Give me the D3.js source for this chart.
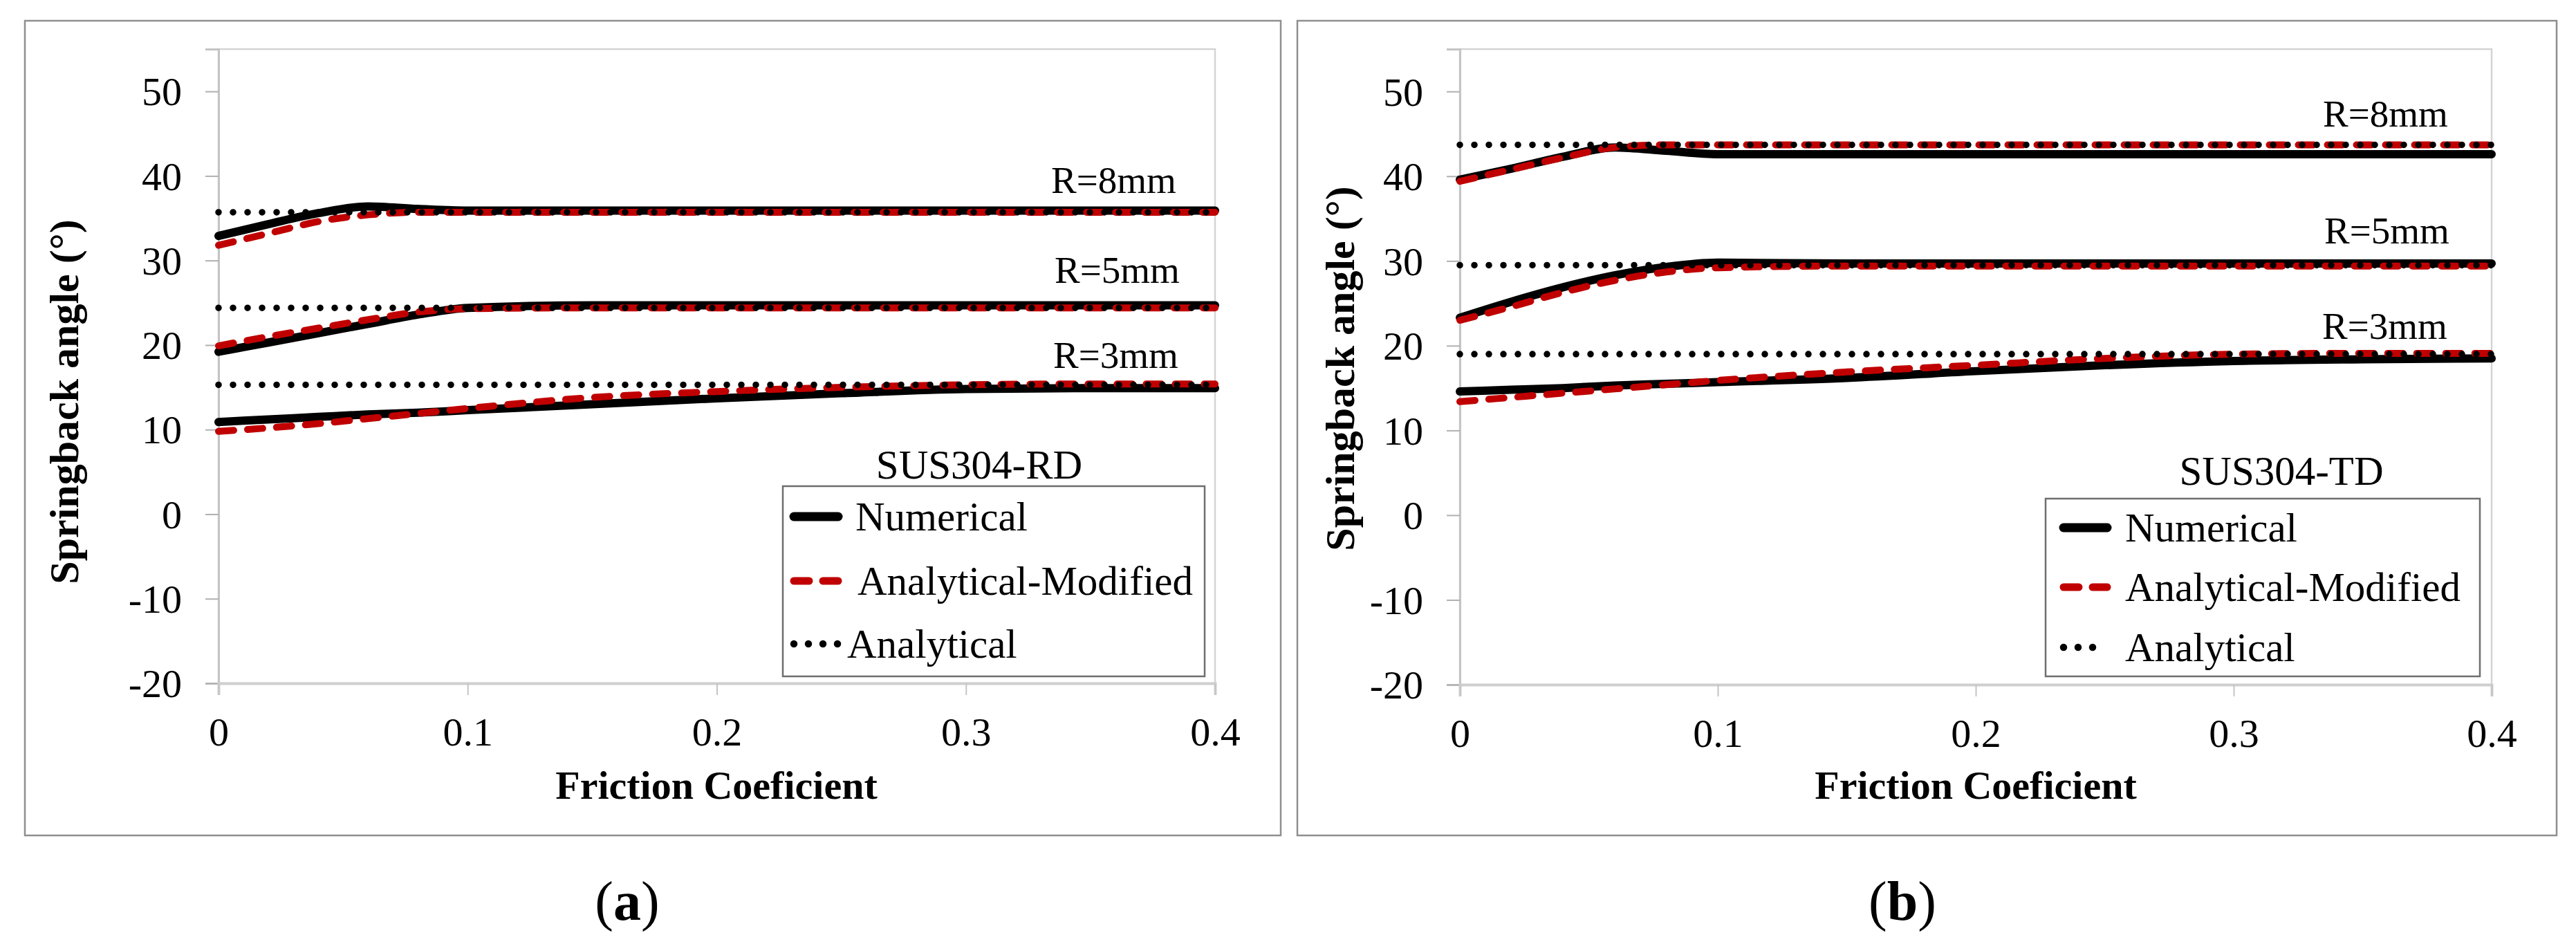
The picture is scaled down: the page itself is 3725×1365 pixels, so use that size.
<!DOCTYPE html>
<html>
<head>
<meta charset="utf-8">
<script src="https://cdn.jsdelivr.net/npm/d3@7"></script>
<style>
  html, body { margin: 0; padding: 0; background: #ffffff; }
  svg { display: block; }
  text { font-family: "Liberation Serif", "Times New Roman", Times, serif; fill: #000; }
</style>
</head>
<body>
<svg id="chart" width="3725" height="1365"></svg>
<script>
// ---------------- DATA ----------------
const friction = [0, 0.02, 0.04, 0.06, 0.08, 0.1, 0.15, 0.2, 0.25, 0.3, 0.35, 0.4];
const xTicks = [0, 0.1, 0.2, 0.3, 0.4];
const yTicks = [-20, -10, 0, 10, 20, 30, 40, 50];
const radii = ["R=8mm", "R=5mm", "R=3mm"];
const seriesNames = ["Numerical", "Analytical-Modified", "Analytical"];

// (a) SUS304-RD
const rdNum8 = [32.9, 34.3, 35.6, 36.4, 36.1, 35.9, 35.9, 35.9, 35.9, 35.9, 35.9, 35.9];
const rdMod8 = [31.8, 33.2, 34.6, 35.4, 35.7, 35.7, 35.7, 35.7, 35.7, 35.7, 35.7, 35.7];
const rdAna8 = [35.7, 35.7, 35.7, 35.7, 35.7, 35.7, 35.7, 35.7, 35.7, 35.7, 35.7, 35.7];
const rdNum5 = [19.2, 20.3, 21.4, 22.5, 23.6, 24.4, 24.7, 24.7, 24.7, 24.7, 24.7, 24.7];
const rdMod5 = [19.9, 21.0, 22.0, 23.0, 23.9, 24.3, 24.4, 24.4, 24.4, 24.4, 24.4, 24.4];
const rdAna5 = [24.4, 24.4, 24.4, 24.4, 24.4, 24.4, 24.4, 24.4, 24.4, 24.4, 24.4, 24.4];
const rdNum3 = [10.9, 11.2, 11.5, 11.8, 12.0, 12.3, 13.0, 13.7, 14.3, 14.8, 14.9, 14.9];
const rdMod3 = [9.8, 10.2, 10.7, 11.3, 11.9, 12.5, 13.8, 14.5, 15.0, 15.3, 15.4, 15.4];
const rdAna3 = [15.3, 15.3, 15.3, 15.3, 15.3, 15.3, 15.3, 15.3, 15.3, 15.3, 15.3, 15.3];

// (b) SUS304-TD
const tdNum8 = [39.6, 40.9, 42.3, 43.4, 43.0, 42.6, 42.6, 42.6, 42.6, 42.6, 42.6, 42.6];
const tdMod8 = [39.4, 40.8, 42.2, 43.4, 43.7, 43.7, 43.7, 43.7, 43.7, 43.7, 43.7, 43.7];
const tdAna8 = [43.7, 43.7, 43.7, 43.7, 43.7, 43.7, 43.7, 43.7, 43.7, 43.7, 43.7, 43.7];
const tdNum5 = [23.3, 25.2, 26.9, 28.3, 29.3, 29.8, 29.7, 29.7, 29.7, 29.7, 29.7, 29.7];
const tdMod5 = [23.0, 24.6, 26.3, 27.7, 28.7, 29.2, 29.4, 29.4, 29.4, 29.4, 29.4, 29.4];
const tdAna5 = [29.5, 29.5, 29.5, 29.5, 29.5, 29.5, 29.5, 29.5, 29.5, 29.5, 29.5, 29.5];
const tdNum3 = [14.6, 14.8, 15.0, 15.3, 15.5, 15.7, 16.2, 17.0, 17.7, 18.2, 18.4, 18.5];
const tdMod3 = [13.4, 13.9, 14.4, 14.9, 15.4, 15.9, 16.9, 17.7, 18.5, 19.0, 19.1, 19.1];
const tdAna3 = [19.0, 19.0, 19.0, 19.0, 19.0, 19.0, 19.0, 19.0, 19.0, 19.0, 19.0, 19.0];

// ---------------- STYLES ----------------
const styles = {
  "Numerical":           { stroke: "#000000", width: 12,  dash: null,    cap: "round" },
  "Analytical-Modified": { stroke: "#c00000", width: 10,  dash: "22 20", cap: "round" },
  "Analytical":          { stroke: "#000000", width: 9.5, dash: "0 21",  cap: "round" }
};

// ---------------- LAYOUT ----------------
const panels = [
  {
    material: "SUS304-RD", caption: "a",
    series: [[rdNum8, rdMod8, rdAna8], [rdNum5, rdMod5, rdAna5], [rdNum3, rdMod3, rdAna3]],
    outer: [36, 30, 1852, 1208],
    plot: { x0: 316, x1: 1757, y0: 71, y1: 988 },
    yTitle: { x: 113, cy: 581 },
    xTitle: { cx: 1036, y: 1155 },
    rLabels: [{ x: 1520, y: 279 }, { x: 1525, y: 409 }, { x: 1523, y: 532 }],
    legend: { box: [1132, 703, 1742, 978], rows: [747, 840, 931], sx0: 1148, sx1: 1212, tx: [1237, 1240, 1225] },
    matTitle: { cx: 1416, y: 692 },
    cap: { cx: 907, y: 1330 }
  },
  {
    material: "SUS304-TD", caption: "b",
    series: [[tdNum8, tdMod8, tdAna8], [tdNum5, tdMod5, tdAna5], [tdNum3, tdMod3, tdAna3]],
    outer: [1876, 30, 3697, 1208],
    plot: { x0: 2111, x1: 3603, y0: 71, y1: 990 },
    yTitle: { x: 1958, cy: 533 },
    xTitle: { cx: 2857, y: 1155 },
    rLabels: [{ x: 3359, y: 183 }, { x: 3361, y: 352 }, { x: 3358, y: 490 }],
    legend: { box: [2958, 721, 3586, 978], rows: [763, 849, 936], sx0: 2984, sx1: 3047, tx: [3073, 3073, 3073] },
    matTitle: { cx: 3299, y: 701 },
    cap: { cx: 2751, y: 1330 }
  }
];

const svg = d3.select("#chart");

panels.forEach(p => {
  const g = svg.append("g");

  // outer frame
  g.append("rect")
    .attr("x", p.outer[0]).attr("y", p.outer[1])
    .attr("width", p.outer[2] - p.outer[0]).attr("height", p.outer[3] - p.outer[1])
    .attr("fill", "#ffffff").attr("stroke", "#8f8f8f").attr("stroke-width", 2.5);

  const x = d3.scaleLinear().domain([0, 0.4]).range([p.plot.x0, p.plot.x1]);
  const y = d3.scaleLinear().domain([-20, 55]).range([p.plot.y1, p.plot.y0]);

  // plot area border (top/right)
  g.append("rect")
    .attr("x", p.plot.x0).attr("y", p.plot.y0)
    .attr("width", p.plot.x1 - p.plot.x0).attr("height", p.plot.y1 - p.plot.y0)
    .attr("fill", "none").attr("stroke", "#d4d4d4").attr("stroke-width", 2.5);

  // y axis
  const yAxis = g.append("g")
    .attr("transform", `translate(${p.plot.x0},0)`)
    .call(d3.axisLeft(y).tickValues(yTicks).tickSize(19).tickPadding(34).tickFormat(d3.format("d")));
  yAxis.select(".domain").attr("stroke", "#c4c4c4").attr("stroke-width", 3);
  yAxis.selectAll(".tick line").attr("stroke", "#b0b0b0").attr("stroke-width", 2);
  yAxis.selectAll(".tick text")
    .attr("font-size", 58).attr("font-family", "Liberation Serif, Times New Roman, serif")
    .attr("fill", "#000").attr("dy", "0.34em")
    .text(d => d < 0 ? "-" + Math.abs(d) : d);

  // x axis
  const xAxis = g.append("g")
    .attr("transform", `translate(0,${p.plot.y1})`)
    .call(d3.axisBottom(x).tickValues(xTicks).tickSize(17).tickFormat(d => d === 0 ? "0" : d3.format(".1f")(d)));
  xAxis.select(".domain").attr("stroke", "#cfcfcf").attr("stroke-width", 4);
  xAxis.selectAll(".tick line").attr("stroke", "#c4c4c4").attr("stroke-width", 2);
  xAxis.selectAll(".tick text")
    .attr("font-size", 58).attr("font-family", "Liberation Serif, Times New Roman, serif")
    .attr("fill", "#000").attr("y", 90).attr("dy", null);

  // axis titles
  g.append("text")
    .attr("transform", `translate(${p.yTitle.x},${p.yTitle.cy}) rotate(-90)`)
    .attr("text-anchor", "middle").attr("font-size", 60).attr("font-weight", "bold")
    .text("Springback  angle (°)");
  g.append("text")
    .attr("x", p.xTitle.cx).attr("y", p.xTitle.y)
    .attr("text-anchor", "middle").attr("font-size", 58).attr("font-weight", "bold")
    .text("Friction Coeficient");

  // lines
  const line = d3.line()
    .x(d => x(d[0])).y(d => y(d[1]))
    .curve(d3.curveMonotoneX);

  p.series.forEach(group => {
    group.forEach((vals, si) => {
      const st = styles[seriesNames[si]];
      const pts = friction.map((f, i) => [f, vals[i]]);
      g.append("path")
        .attr("d", line(pts))
        .attr("fill", "none")
        .attr("stroke", st.stroke)
        .attr("stroke-width", st.width)
        .attr("stroke-linecap", st.cap)
        .attr("stroke-linejoin", "round")
        .attr("stroke-dasharray", st.dash);
    });
  });

  // R labels
  radii.forEach((r, i) => {
    g.append("text")
      .attr("x", p.rLabels[i].x).attr("y", p.rLabels[i].y)
      .attr("font-size", 55).text(r);
  });

  // material title
  g.append("text")
    .attr("x", p.matTitle.cx).attr("y", p.matTitle.y)
    .attr("text-anchor", "middle").attr("font-size", 59).text(p.material);

  // legend
  const L = p.legend;
  g.append("rect")
    .attr("x", L.box[0]).attr("y", L.box[1])
    .attr("width", L.box[2] - L.box[0]).attr("height", L.box[3] - L.box[1])
    .attr("fill", "#ffffff").attr("stroke", "#6e6e6e").attr("stroke-width", 2.5);
  seriesNames.forEach((name, i) => {
    const st = styles[name];
    const ly = L.rows[i];
    g.append("line")
      .attr("x1", L.sx0).attr("x2", L.sx1).attr("y1", ly).attr("y2", ly)
      .attr("stroke", st.stroke).attr("stroke-width", st.width + 1)
      .attr("stroke-linecap", st.cap).attr("stroke-dasharray", st.dash);
    g.append("text")
      .attr("x", L.tx[i]).attr("y", ly + 20)
      .attr("font-size", 59).text(name);
  });

  // caption
  const cap = g.append("text")
    .attr("x", p.cap.cx).attr("y", p.cap.y)
    .attr("text-anchor", "middle").attr("font-size", 80);
  cap.append("tspan").text("(");
  cap.append("tspan").attr("font-weight", "bold").text(p.caption);
  cap.append("tspan").text(")");
});
</script>
</body>
</html>
